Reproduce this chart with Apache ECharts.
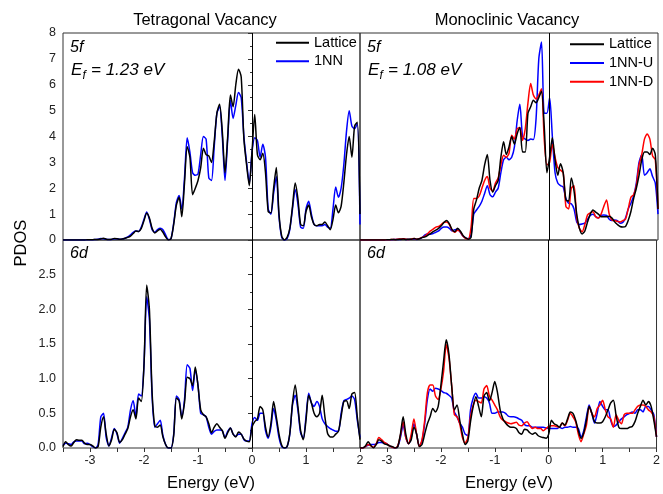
<!DOCTYPE html>
<html><head><meta charset="utf-8">
<script src="https://cdn.jsdelivr.net/npm/echarts@6/dist/echarts.min.js"></script>
<style>html,body{margin:0;padding:0;background:#fff}#c{width:663px;height:494px}</style>
</head><body><div id="c"></div>
<script>
// Energy grid (eV)
const energy = [
 -3.50,-3.45,-3.40,-3.35,-3.30,-3.25,-3.20,-3.15,-3.10,-3.05,
 -3.00,-2.95,-2.90,-2.85,-2.80,-2.75,-2.70,-2.65,-2.60,-2.55,
 -2.50,-2.45,-2.40,-2.35,-2.30,-2.25,-2.20,-2.15,-2.10,-2.05,
 -2.00,-1.95,-1.90,-1.85,-1.80,-1.75,-1.70,-1.65,-1.60,-1.55,
 -1.50,-1.45,-1.40,-1.35,-1.30,-1.25,-1.20,-1.15,-1.10,-1.05,
 -1.00,-0.95,-0.90,-0.85,-0.80,-0.75,-0.70,-0.65,-0.60,-0.55,
 -0.50,-0.45,-0.40,-0.35,-0.30,-0.25,-0.20,-0.15,-0.10,-0.05,
 0.00,0.05,0.10,0.15,0.20,0.25,0.30,0.35,0.40,0.45,
 0.50,0.55,0.60,0.65,0.70,0.75,0.80,0.85,0.90,0.95,
 1.00,1.05,1.10,1.15,1.20,1.25,1.30,1.35,1.40,1.45,
 1.50,1.55,1.60,1.65,1.70,1.75,1.80,1.85,1.90,1.95,
 2.00];

// Tetragonal vacancy, 5f
const tet5fLattice = [
 0,0,0,0,0,0,0,0,0,0.01,
 0.01,0.01,0.02,0.02,0.04,0.07,0.03,0.02,0.03,0.06,
 0.05,0.03,0.04,0.07,0.1,0.15,0.25,0.35,0.33,0.45,
 0.75,1.03,0.85,0.45,0.27,0.35,0.42,0.3,0.12,0.0,
 0.05,0.6,1.35,1.65,0.9,2.2,3.6,3.2,1.75,2.0,
 2.3,2.8,3.55,3.3,3.25,3.0,3.8,4.9,5.25,4.2,
 2.6,4.0,5.6,5.15,6.0,6.6,6.3,3.9,2.9,2.1,
 3.4,4.85,3.3,3.1,3.35,2.6,1.1,1.05,2.0,2.8,
 1.0,0.15,0.0,0.1,0.45,1.3,2.2,1.6,0.6,0.55,
 1.1,1.35,0.9,0.6,0.55,0.6,0.6,0.7,0.55,0.4,
 0.8,1.35,1.05,1.3,2.2,3.3,4.0,3.2,4.4,4.55,
 1.0];
const tet5f1NN = [
 0,0,0,0,0,0,0,0,0,0.01,
 0.01,0.01,0.02,0.03,0.06,0.05,0.03,0.02,0.02,0.05,
 0.05,0.03,0.04,0.07,0.12,0.2,0.3,0.35,0.33,0.5,
 0.8,1.08,0.8,0.4,0.3,0.4,0.45,0.4,0.2,0.02,
 0.05,0.65,1.45,1.72,1.2,2.4,3.95,3.4,2.6,2.5,
 2.55,3.3,4.0,3.9,2.4,2.3,3.6,4.9,5.15,4.0,
 2.3,3.9,5.4,4.7,5.2,5.7,5.5,4.0,3.0,2.2,
 3.4,3.95,3.85,3.2,3.7,3.2,1.2,1.0,1.8,2.45,
 0.9,0.1,0.0,0.05,0.4,1.2,1.95,1.4,0.5,0.45,
 1.2,1.5,1.0,0.6,0.55,0.55,0.55,0.6,0.5,0.45,
 1.2,2.05,1.65,2.0,2.9,4.2,5.0,4.4,4.3,4.5,
 0.6];

// Monoclinic vacancy, 5f
const mono5fLattice = [
 0,0,0,0,0,0,0,0,0,0,
 0.01,0.01,0.02,0.01,0.02,0.03,0.04,0.02,0.03,0.03,
 0.06,0.03,0.05,0.1,0.12,0.18,0.25,0.32,0.38,0.45,
 0.55,0.68,0.75,0.62,0.4,0.32,0.45,0.35,0.18,0.08,
 0.03,0.1,1.2,1.55,2.0,2.3,2.9,3.3,2.3,1.85,
 2.1,2.3,3.2,3.8,3.3,3.6,4.0,3.7,4.1,4.35,
 3.4,3.4,4.9,5.15,5.4,5.3,5.5,5.75,4.4,2.6,
 3.2,3.95,3.1,2.5,2.95,2.6,1.55,1.5,2.4,1.9,
 1.0,0.45,0.23,0.35,0.7,1.0,1.16,1.08,1.0,0.9,
 0.9,0.9,0.92,0.85,0.7,0.6,0.52,0.5,0.52,0.75,
 1.1,1.6,2.0,2.5,3.1,3.4,3.4,3.3,3.55,3.3,
 1.2];
const mono5fU = [
 0,0,0,0,0,0,0,0,0,0,
 0.01,0.01,0.01,0.02,0.02,0.02,0.03,0.02,0.02,0.03,
 0.03,0.02,0.05,0.1,0.2,0.23,0.22,0.25,0.3,0.35,
 0.45,0.5,0.5,0.45,0.35,0.4,0.42,0.3,0.15,0.07,
 0.05,0.2,1.0,1.16,1.3,1.5,1.8,2.1,1.75,1.67,
 1.85,2.0,2.6,3.1,3.2,3.1,3.2,3.6,4.6,5.25,
 4.0,3.9,3.85,3.9,3.88,4.7,7.0,7.65,4.9,4.9,
 5.5,4.0,2.6,2.2,2.1,2.05,1.6,1.42,1.4,1.2,
 0.7,0.6,0.62,0.65,0.8,0.95,1.0,0.9,0.85,0.95,
 0.97,0.95,0.8,0.75,0.77,0.75,0.65,0.68,0.85,1.2,
 1.42,1.7,2.2,3.0,3.3,2.5,2.6,2.75,2.45,2.2,
 1.0];
const mono5fD = [
 0,0,0,0,0,0,0,0,0,0,
 0.01,0.01,0.02,0.02,0.03,0.04,0.05,0.03,0.02,0.04,
 0.06,0.03,0.06,0.1,0.15,0.25,0.35,0.42,0.5,0.52,
 0.6,0.68,0.7,0.6,0.38,0.3,0.38,0.32,0.15,0.06,
 0.05,0.5,1.6,1.6,1.7,2.0,2.3,2.45,2.0,1.9,
 2.2,2.4,2.9,3.28,3.2,3.35,4.05,3.9,4.3,4.35,
 3.85,4.3,5.3,6.05,5.6,5.45,5.6,5.85,3.9,2.9,
 3.0,3.7,3.2,2.8,2.7,2.6,1.3,1.2,2.0,2.1,
 0.85,0.45,0.32,0.6,0.97,1.05,1.09,0.9,0.85,1.0,
 1.3,1.55,1.0,0.77,0.75,0.72,0.7,0.75,0.8,1.2,
 1.65,1.75,2.1,2.9,3.3,3.9,4.1,3.9,3.25,3.1,
 1.2];

// Tetragonal vacancy, 6d
const tet6dLattice = [
 0.02,0.09,0.05,0.03,0.08,0.12,0.11,0.11,0.07,0.05,
 0.05,0.03,0.0,0.02,0.3,0.45,0.2,0.03,0.12,0.27,
 0.22,0.08,0.12,0.2,0.28,0.45,0.55,0.42,0.72,0.67,
 1.2,2.35,2.0,0.8,0.32,0.3,0.33,0.16,0.05,0.0,
 0.0,0.18,0.72,0.68,0.42,0.65,1.02,1.0,0.9,1.17,
 0.9,0.55,0.48,0.45,0.35,0.22,0.3,0.35,0.3,0.25,
 0.14,0.22,0.29,0.2,0.16,0.23,0.2,0.13,0.1,0.09,
 0.3,0.38,0.42,0.6,0.55,0.3,0.16,0.35,0.67,0.45,
 0.2,0.04,0.0,0.02,0.21,0.65,0.91,0.6,0.25,0.12,
 0.4,0.76,0.65,0.5,0.45,0.5,0.76,0.45,0.21,0.16,
 0.16,0.2,0.24,0.45,0.67,0.68,0.57,0.78,0.8,0.45,
 0.12];
const tet6d1NN = [
 0.04,0.07,0.06,0.05,0.09,0.1,0.1,0.1,0.06,0.07,
 0.05,0.02,0.0,0.05,0.45,0.5,0.15,0.03,0.15,0.28,
 0.2,0.07,0.14,0.22,0.3,0.55,0.68,0.45,0.78,0.75,
 1.2,2.18,1.85,0.75,0.3,0.35,0.4,0.18,0.05,0.0,
 0.0,0.2,0.75,0.7,0.45,0.7,1.2,1.15,0.83,1.12,
 0.9,0.5,0.48,0.45,0.3,0.2,0.24,0.26,0.26,0.25,
 0.15,0.24,0.29,0.2,0.17,0.2,0.2,0.12,0.1,0.1,
 0.35,0.44,0.4,0.5,0.5,0.25,0.14,0.3,0.57,0.4,
 0.15,0.02,0.0,0.02,0.2,0.62,0.76,0.55,0.22,0.14,
 0.45,0.79,0.65,0.6,0.67,0.6,0.42,0.35,0.31,0.28,
 0.26,0.24,0.24,0.5,0.68,0.7,0.72,0.75,0.7,0.4,
 0.15];

// Monoclinic vacancy, 6d
const mono6dLattice = [
 0.0,0.0,0.03,0.09,0.04,0.0,0.05,0.12,0.1,0.06,
 0.05,0.03,0.02,0.0,0.02,0.2,0.45,0.2,0.06,0.12,
 0.3,0.2,0.02,0.05,0.2,0.35,0.45,0.57,0.52,0.6,
 0.9,1.25,1.56,1.35,0.9,0.55,0.62,0.4,0.2,0.05,
 0.1,0.38,0.6,0.74,0.6,0.45,0.75,0.8,0.68,0.8,
 0.96,0.8,0.55,0.42,0.36,0.32,0.3,0.3,0.28,0.22,
 0.2,0.27,0.26,0.22,0.2,0.22,0.18,0.16,0.15,0.14,
 0.2,0.4,0.35,0.33,0.3,0.36,0.33,0.42,0.52,0.5,
 0.4,0.25,0.14,0.22,0.4,0.6,0.5,0.38,0.36,0.36,
 0.38,0.45,0.55,0.65,0.69,0.47,0.3,0.28,0.28,0.28,
 0.3,0.31,0.38,0.5,0.6,0.69,0.62,0.67,0.6,0.4,
 0.16];
const mono6dU = [
 0.0,0.0,0.02,0.04,0.05,0.05,0.06,0.08,0.08,0.07,
 0.06,0.03,0.01,0.0,0.02,0.15,0.33,0.15,0.06,0.15,
 0.35,0.2,0.03,0.1,0.35,0.7,0.85,0.82,0.86,0.85,
 0.83,0.8,0.79,0.76,0.72,0.52,0.45,0.36,0.3,0.2,
 0.18,0.55,0.72,0.79,0.72,0.72,0.74,0.72,0.65,0.5,
 0.5,0.52,0.52,0.52,0.5,0.46,0.45,0.45,0.44,0.42,
 0.4,0.34,0.32,0.32,0.3,0.3,0.3,0.3,0.3,0.29,
 0.28,0.28,0.28,0.28,0.3,0.28,0.3,0.3,0.31,0.3,
 0.3,0.28,0.16,0.25,0.45,0.62,0.5,0.36,0.5,0.67,
 0.6,0.55,0.55,0.4,0.31,0.33,0.38,0.42,0.45,0.48,
 0.5,0.52,0.5,0.55,0.55,0.52,0.6,0.6,0.55,0.48,
 0.16];
const mono6dD = [
 0.0,0.0,0.02,0.05,0.03,0.01,0.06,0.15,0.12,0.08,
 0.06,0.03,0.01,0.0,0.03,0.18,0.38,0.15,0.06,0.2,
 0.42,0.2,0.02,0.12,0.4,0.8,0.91,0.91,0.75,0.7,
 0.85,1.1,1.49,1.3,0.9,0.48,0.45,0.35,0.15,0.07,
 0.15,0.45,0.62,0.69,0.67,0.65,0.85,0.9,0.75,0.69,
 0.62,0.55,0.45,0.4,0.38,0.36,0.35,0.36,0.37,0.33,
 0.32,0.36,0.38,0.32,0.28,0.3,0.28,0.28,0.25,0.28,
 0.31,0.32,0.32,0.31,0.3,0.36,0.32,0.4,0.5,0.45,
 0.38,0.2,0.09,0.2,0.33,0.6,0.5,0.45,0.57,0.62,
 0.69,0.55,0.45,0.42,0.3,0.48,0.4,0.35,0.48,0.5,
 0.5,0.5,0.55,0.6,0.62,0.62,0.6,0.55,0.52,0.45,
 0.16];

const FONT = '"Liberation Sans", Arial, Helvetica, sans-serif';
const BLACK = '#000000', BLUE = '#0000ff', RED = '#ff0000';

function pts(vals) { return energy.map((e, i) => [e, vals[i]]); }
function line(name, vals, color, idx, withZero) {
  const s = {
    type: 'line', name: name, xAxisIndex: idx, yAxisIndex: idx,
    data: pts(vals), showSymbol: false, symbol: 'none', smooth: 0.25,
    lineStyle: { color: color, width: 1.5 }, itemStyle: { color: color }
  };
  if (withZero) {
    s.markLine = {
      silent: true, symbol: 'none', label: { show: false },
      lineStyle: { color: '#000', width: 1, type: 'solid' },
      data: [{ xAxis: 0 }]
    };
  }
  return s;
}

function xAxisDef(gi, showLabels) {
  return {
    type: 'value', gridIndex: gi, min: -3.5, max: 2, interval: 0.5,
    splitLine: { show: false }, axisLine: { show: false },
    axisTick: { show: showLabels, inside: false, length: 4, lineStyle: { color: '#333' } },
    axisLabel: {
      show: showLabels, margin: 6, fontSize: 12.5, color: '#222', fontFamily: FONT,
      formatter: v => (Math.abs(v - Math.round(v)) < 1e-9 ? String(Math.round(v)) : '')
    }
  };
}
function yAxisDef(gi, max, interval, showLabels, fmt) {
  return {
    type: 'value', gridIndex: gi, min: 0, max: max, interval: interval,
    splitLine: { show: false }, axisLine: { show: false },
    axisTick: { show: showLabels, inside: false, length: 4, lineStyle: { color: '#333' } },
    minorTick: { show: showLabels, splitNumber: 2, length: 2, lineStyle: { color: '#333' } },
    axisLabel: { show: showLabels, margin: 7, fontSize: 12.5, color: '#222', fontFamily: FONT, formatter: fmt }
  };
}

const gridStyle = { show: true, borderColor: '#333', borderWidth: 1, backgroundColor: 'transparent' };

function txt(x, y, text, size, opts) {
  opts = opts || {};
  return {
    type: 'text', x: x, y: y, rotation: opts.rotation || 0, silent: true,
    style: {
      text: text, fill: '#000',
      font: (opts.italic ? 'italic ' : '') + size + 'px ' + FONT,
      align: opts.align || 'left', verticalAlign: opts.valign || 'top',
      textAlign: opts.align || 'left', textVerticalAlign: opts.valign || 'top'
    }
  };
}

const option = {
  animation: false,
  backgroundColor: '#fff',
  grid: [
    Object.assign({ left: 63, top: 33, width: 297, height: 207 }, gridStyle),
    Object.assign({ left: 360, top: 33, width: 298, height: 207 }, gridStyle),
    Object.assign({ left: 63, top: 240, width: 297, height: 208 }, gridStyle),
    Object.assign({ left: 360, top: 240, width: 298, height: 208 }, gridStyle)
  ],
  xAxis: [xAxisDef(0, false), xAxisDef(1, false), xAxisDef(2, true), xAxisDef(3, true)],
  yAxis: [
    yAxisDef(0, 8, 1, true, v => String(v)),
    yAxisDef(1, 8, 1, false),
    yAxisDef(2, 3, 0.5, true, v => (v >= 2.99 ? '' : v.toFixed(1))),
    yAxisDef(3, 3, 0.5, false)
  ],
  legend: [
    {
      data: ['Lattice', '1NN'], orient: 'vertical', left: 276, top: 33.5, padding: 0,
      itemWidth: 33, itemHeight: 2, itemGap: 0, icon: 'rect', selectedMode: false,
      textStyle: { fontSize: 14.5, lineHeight: 18.5, color: '#000', fontFamily: FONT }
    },
    {
      data: ['Lattice', '1NN-U', '1NN-D'], orient: 'vertical', left: 570, top: 35, padding: 0,
      itemWidth: 34, itemHeight: 2, itemGap: 0, icon: 'rect', selectedMode: false,
      textStyle: { fontSize: 14.5, lineHeight: 18.7, color: '#000', fontFamily: FONT }
    }
  ],
  series: [
    line('1NN', tet5f1NN, BLUE, 0, false),
    line('Lattice', tet5fLattice, BLACK, 0, true),
    line('1NN-U', mono5fU, BLUE, 1, false),
    line('1NN-D', mono5fD, RED, 1, false),
    line('Lattice', mono5fLattice, BLACK, 1, true),
    line('1NN', tet6d1NN, BLUE, 2, false),
    line('Lattice', tet6dLattice, BLACK, 2, true),
    line('1NN-U', mono6dU, BLUE, 3, false),
    line('1NN-D', mono6dD, RED, 3, false),
    line('Lattice', mono6dLattice, BLACK, 3, true)
  ],
  graphic: [
    txt(205, 20, 'Tetragonal Vacancy', 16.5, { align: 'center', valign: 'middle' }),
    txt(507, 20, 'Monoclinic Vacancy', 16.5, { align: 'center', valign: 'middle' }),
    txt(211, 483, 'Energy (eV)', 16.5, { align: 'center', valign: 'middle' }),
    txt(509, 483, 'Energy (eV)', 16.5, { align: 'center', valign: 'middle' }),
    txt(21, 243, 'PDOS', 16.5, { align: 'center', valign: 'middle', rotation: Math.PI / 2 }),
    txt(70, 40, '5f', 16, { italic: true }),
    txt(71, 62, 'E', 17, { italic: true }),
    txt(82.5, 70, 'f', 12, { italic: true }),
    txt(91, 62, '= 1.23 eV', 17, { italic: true }),
    txt(367, 40, '5f', 16, { italic: true }),
    txt(368, 62, 'E', 17, { italic: true }),
    txt(379.5, 70, 'f', 12, { italic: true }),
    txt(388, 62, '= 1.08 eV', 17, { italic: true }),
    txt(70, 246, '6d', 16, { italic: true }),
    txt(367, 246, '6d', 16, { italic: true })
  ]
};

const chart = echarts.init(document.getElementById('c'), null, { renderer: 'canvas' });
chart.setOption(option);
</script>
</body></html>
